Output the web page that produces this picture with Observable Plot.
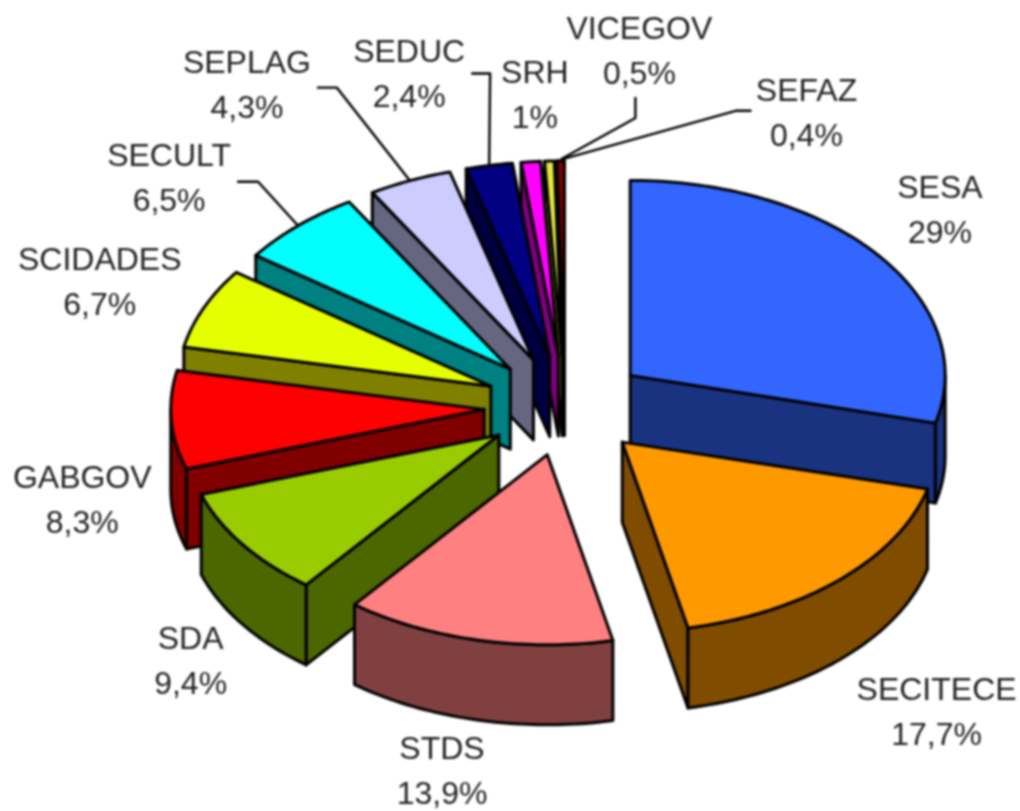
<!DOCTYPE html>
<html>
<head>
<meta charset="utf-8">
<script src="https://cdn.jsdelivr.net/npm/d3@7"></script>
<script src="https://cdn.jsdelivr.net/npm/@observablehq/plot@0.6"></script>
<style>
html,body{margin:0;padding:0;background:#fff}
svg{display:block;filter:blur(0.8px)}
</style>
</head>
<body>
<div id="chart"></div>
<script>
// Data, clockwise from twelve o'clock
const names  = ["SESA","SECITECE","STDS","SDA","GABGOV","SCIDADES","SECULT","SEPLAG","SEDUC","SRH","VICEGOV","SEFAZ"];
const shares = [29,17.7,13.9,9.4,8.3,6.7,6.5,4.3,2.4,1,0.5,0.4];
const labels = ["29%","17,7%","13,9%","9,4%","8,3%","6,7%","6,5%","4,3%","2,4%","1%","0,5%","0,4%"];
const topColors  = ["#3366ff","#ff9900","#ff8080","#99cc00","#ff0000","#e6ff00","#00ffff","#ccccff","#000080","#ff00ff","#e6e640","#800000"];
const sideColors = ["#1a3380","#804c00","#804040","#4c6600","#800000","#808000","#008080","#666680","#000040","#800080","#808020","#400000"];

// Layout: projection of the tilted pie, in pixels per unit
const W = 1020, H = 811;
const cx = 565, cy = 406, rx = 315, ry = 195;
const explode = 0.26, depth = 80 / ry;
// Pixel offsets from each slice's rim midpoint
const labelOffsets = [[61,-50],[96,129],[-35,127],[-52,113],[-89,76],[-104,-30],[-129,-52],[-163,-100],[-80,-95],[4,-71],[90,-114],[246,-52]];
const leaderOffsets = {
  SECULT:  [[0,0],[-40,-44],[-60,-44]],
  SEPLAG:  [[0,0],[-73,-93],[-92,-93]],
  SEDUC:   [[0,0],[1,-92],[-17,-92]],
  VICEGOV: [[12,-2],[86,-43],[86,-63]],
  SEFAZ:   [[3,-2],[175,-50],[190,-50]]
};
// Slight foreshortening of the near and left parts of the pie
const warp = (x, y) => ({x: x < 0 ? x * 0.995 : x, y: y > 0 ? y * 0.975 : y});

const total = d3.sum(shares);
let acc = 0;
const onPie = (a, apex) => warp(apex.x + Math.sin(a), apex.y - Math.cos(a));
const slices = names.map((name, i) => {
  const a0 = acc / total * 2 * Math.PI;
  acc += shares[i];
  const a1 = acc / total * 2 * Math.PI;
  const mid = (a0 + a1) / 2;
  const raw = {x: explode * Math.sin(mid), y: -explode * Math.cos(mid)};
  const arc = (from, to) => {
    const n = Math.max(2, Math.ceil((to - from) / 0.02));
    return d3.range(n + 1).map(k => onPie(from + (to - from) * k / n, raw));
  };
  const from = Math.max(a0, Math.PI / 2), to = Math.min(a1, 3 * Math.PI / 2);
  return {
    name, i, a0, a1,
    apex: warp(raw.x, raw.y),
    rim: arc(a0, a1),
    front: to > from ? arc(from, to) : null,
    anchor: onPie(mid, raw)
  };
});

const down = p => ({x: p.x, y: p.y + depth});
const closed = pts => [...pts, pts[0]];
const polyMark = (pts, fill) => Plot.line(closed(pts), {x: "x", y: "y", fill, stroke: "#000", strokeWidth: 3, strokeLinejoin: "round", curve: "linear"});

const marks = [];
[...slices].sort((a, b) => a.apex.y - b.apex.y).forEach(s => {
  const side = sideColors[s.i];
  const first = s.rim[0], last = s.rim[s.rim.length - 1];
  // Only faces turned towards the viewer are drawn
  if (Math.sin(s.a0) < 0) marks.push(polyMark([s.apex, first, down(first), down(s.apex)], side));
  if (Math.sin(s.a1) > 0) marks.push(polyMark([s.apex, last, down(last), down(s.apex)], side));
  if (s.front) marks.push(polyMark([...s.front, ...s.front.map(down).reverse()], side));
  marks.push(polyMark([s.apex, ...s.rim], topColors[s.i]));
});

const px = (p, [dx, dy]) => ({x: p.x + dx / rx, y: p.y + dy / ry});
slices.forEach(s => {
  const leader = leaderOffsets[s.name];
  if (leader) marks.push(Plot.line(leader.map(o => px(s.anchor, o)), {x: "x", y: "y", stroke: "#000", strokeWidth: 2.4, curve: "linear"}));
  marks.push(Plot.text([s], {
    x: d => d.anchor.x, y: d => d.anchor.y,
    text: d => d.name + "\n" + labels[d.i],
    dx: labelOffsets[s.i][0], dy: labelOffsets[s.i][1],
    fontSize: 32, lineHeight: 1.41, fill: "#222",
    fontFamily: "'Liberation Sans', Arial, sans-serif"
  }));
});

const chart = Plot.plot({
  width: W, height: H,
  margin: 0,
  style: {background: "#fff", overflow: "visible"},
  x: {domain: [-cx / rx, (W - cx) / rx], range: [0, W], axis: null},
  y: {domain: [-cy / ry, (H - cy) / ry], range: [0, H], axis: null},
  marks
});
document.getElementById("chart").appendChild(chart);
</script>
</body>
</html>
